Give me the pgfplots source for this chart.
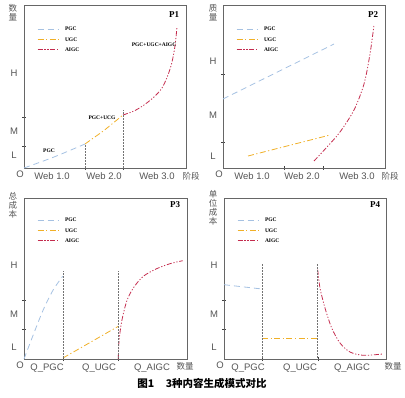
\documentclass[border=0pt]{standalone}
\usepackage{pgfplots}
\pgfplotsset{compat=1.18}
\usepackage{fontspec}
\setmainfont{Liberation Sans}
\newfontfamily\serifb{Liberation Serif}
\newfontfamily\cjk{Noto Sans CJK SC}

\definecolor{pgc}{RGB}{165,193,226}
\definecolor{ugc}{RGB}{240,176,40}
\definecolor{aigc}{RGB}{196,44,78}
\definecolor{lab}{RGB}{85,85,85}

\tikzset{
  pgcline/.style={pgc, line width=0.8pt, dash pattern=on 6pt off 4pt},
  ugcline/.style={ugc, line width=0.8pt, dash pattern=on 6pt off 2.5pt on 1.2pt off 2.5pt},
  aigcline/.style={aigc, line width=0.8pt, dash pattern=on 5pt off 1.8pt on 1.2pt off 1.8pt on 1.2pt off 1.8pt},
  guide/.style={black!55, line width=0.5pt, densely dotted},
  ann/.style={font=\serifb\bfseries\fontsize{5.5}{6}\selectfont, inner sep=0pt},
  tl/.style={font=\fontsize{9.5}{10}\selectfont, text=lab, inner sep=0pt},
  pl/.style={font=\serifb\bfseries\fontsize{9}{10}\selectfont, inner sep=0pt},
  cj/.style={font=\cjk\fontsize{8.5}{9}\selectfont, text=lab, inner sep=0pt, align=center},
}

\pgfplotsset{
  panel/.style={
    scale only axis, width=162pt, height=162pt,
    xmin=0, xmax=162, ymin=0, ymax=162, clip=false,
    axis line style={black!60, line width=0.5pt},
    tick pos=left, tick align=center, major tick length=4pt,
    tick style={black!75, line width=0.5pt},
    xticklabels={}, yticklabels={},
    legend cell align=left,
    legend image code/.code={\draw[##1] (0pt,0pt) -- (21pt,0pt); \path (27pt,0pt);},
    legend style={at={(axis cs:13,141)}, anchor=north west, draw=none, fill=none,
      font=\serifb\bfseries\fontsize{5.5}{5.5}\selectfont,
      row sep=6.5pt, inner sep=0pt,
      nodes={inner sep=0pt, text height=3.8pt, text depth=0pt}},
  },
}

\begin{document}
\begin{tikzpicture}
\useasboundingbox (0,0) rectangle (405pt,397pt);

% ---------------- P1 ----------------
\begin{axis}[panel, at={(24pt,229pt)}, anchor=south west, height=163pt, ymax=163,
  xtick={61,99}, ytick={22,51}]
\addplot[pgcline, smooth] coordinates {(0,0) (30,11) (61,24)};
\addlegendentry{PGC}
\addplot[ugcline] coordinates {(61,24) (80,37.5) (99,53)};
\addlegendentry{UGC}
\addplot[aigcline, smooth] coordinates {(99,53) (110,57) (120,63) (130,71) (138,80) (144,93) (148,106) (151,122) (153,141)};
\addlegendentry{AIGC}
\addplot[guide, forget plot] coordinates {(61,0) (61,24)};
\addplot[guide, forget plot] coordinates {(99,0) (99,58)};
\node[ann] at (axis cs:25,17) {PGC};
\node[ann] at (axis cs:78,50) {PGC+UCG};
\node[ann] at (axis cs:130,123) {PGC+UGC+AIGC};
\node[pl] at (axis cs:150,153) {P1};
\node[tl] at (axis cs:-10,13) {L};
\node[tl] at (axis cs:-10,37) {M};
\node[tl] at (axis cs:-10,95) {H};
\node[tl] at (axis cs:-4,-6) {O};
\node[tl] at (axis cs:28,-8) {Web 1.0};
\node[tl] at (axis cs:80,-8) {Web 2.0};
\node[tl] at (axis cs:133,-8) {Web 3.0};
\node[cj] at (axis cs:167,-8) {阶段};
\end{axis}
\node[cj] at (13pt,384pt) {数\\量};

% ---------------- P2 ----------------
\begin{axis}[panel, at={(223pt,229pt)}, anchor=south west, height=163pt, ymax=163,
  xtick={61,100}, ytick={26,94}]
\addplot[pgcline] coordinates {(0,69) (111,124)};
\addlegendentry{PGC}
\addplot[ugcline] coordinates {(25,12) (107,33)};
\addlegendentry{UGC}
\addplot[aigcline, smooth] coordinates {(91,7) (104,21) (117,36) (131,58) (141,84) (147,114) (151,143)};
\addlegendentry{AIGC}
\node[pl] at (axis cs:150,153) {P2};
\node[tl] at (axis cs:-10,12) {L};
\node[tl] at (axis cs:-10,53) {M};
\node[tl] at (axis cs:-10,107) {H};
\node[tl] at (axis cs:-4,-6) {O};
\node[tl] at (axis cs:29,-8) {Web 1.0};
\node[tl] at (axis cs:79,-8) {Web 2.0};
\node[tl] at (axis cs:134,-8) {Web 3.0};
\node[cj] at (axis cs:167,-8) {阶段};
\end{axis}
\node[cj] at (213pt,384pt) {质\\量};

% ---------------- P3 ----------------
\begin{axis}[panel, at={(24pt,38pt)}, anchor=south west, width=163pt, xmax=163, height=161pt, ymax=161,
  xtick={39,94}, ytick={30,59}]
\addplot[pgcline, smooth] coordinates {(0,0) (9.3,24.3) (19.3,49.3) (29.3,69.3) (38.7,82.7)};
\addlegendentry{PGC}
\addplot[ugcline] coordinates {(39,1) (94.3,32.7)};
\addlegendentry{UGC}
\addplot[aigcline, smooth] coordinates {(94.3,0) (95,17.7) (97.7,37.7) (102.7,57.7) (109.3,71) (119.3,82.7) (132.7,90.3) (146,95.3) (158.7,98.3)};
\addlegendentry{AIGC}
\addplot[guide, forget plot] coordinates {(39,0) (39,88)};
\addplot[guide, forget plot] coordinates {(94.3,0) (94.3,88)};
\node[pl] at (axis cs:151,154) {P3};
\node[tl] at (axis cs:-10,12) {L};
\node[tl] at (axis cs:-10,45) {M};
\node[tl] at (axis cs:-10,94) {H};
\node[tl] at (axis cs:-4,-6) {O};
\node[tl] at (axis cs:23,-9) {Q\_PGC};
\node[tl] at (axis cs:75,-9) {Q\_UGC};
\node[tl] at (axis cs:128,-9) {Q\_AIGC};
\node[cj] at (axis cs:161,-7) {数量};
\end{axis}
\node[cj] at (13pt,192pt) {总\\成\\本};

% ---------------- P4 ----------------
\begin{axis}[panel, at={(224pt,38pt)}, anchor=south west, height=161pt, ymax=161,
  xtick={38,94}, ytick={30,59}]
\addplot[pgcline] coordinates {(0,74.3) (38,70)};
\addlegendentry{PGC}
\addplot[ugcline] coordinates {(38,20.3) (93.7,20.3)};
\addlegendentry{UGC}
\addplot[aigcline, smooth] coordinates {(93.7,89.3) (96,71) (101,51) (107.7,31) (116,16) (126,7) (139.3,3.7) (158.7,5)};
\addlegendentry{AIGC}
\addplot[guide, forget plot] coordinates {(38,0) (38,96)};
\addplot[guide, forget plot] coordinates {(93.7,0) (93.7,96)};
\node[pl] at (axis cs:151,154) {P4};
\node[tl] at (axis cs:-10,12) {L};
\node[tl] at (axis cs:-10,45) {M};
\node[tl] at (axis cs:-10,94) {H};
\node[tl] at (axis cs:-4,-6) {O};
\node[tl] at (axis cs:24,-9) {Q\_PGC};
\node[tl] at (axis cs:76,-9) {Q\_UGC};
\node[tl] at (axis cs:128,-9) {Q\_AIGC};
\node[cj] at (axis cs:169,-7) {数量};
\end{axis}
\node[cj] at (213pt,189pt) {单\\位\\成\\本};

% caption
\node[font=\cjk\bfseries\fontsize{10.5}{11}\selectfont, inner sep=0pt] at (202pt,14pt) {图1\hspace{1.1em}3种内容生成模式对比};
\end{tikzpicture}
\end{document}
